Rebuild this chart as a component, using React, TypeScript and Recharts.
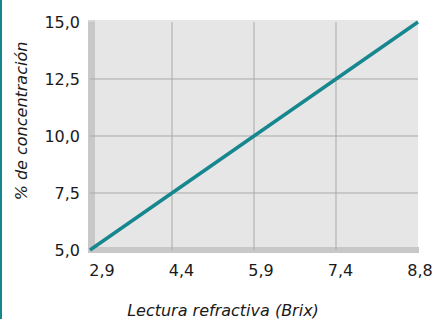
import React from 'react';
import { LineChart, Line, XAxis, YAxis, ReferenceLine, Customized, Label, usePlotArea } from 'recharts';

// Data
const brixLabels = ['2,9', '4,4', '5,9', '7,4', '8,8'];
const concentration = [5, 7.5, 10, 12.5, 15];
const yTicks = [5, 7.5, 10, 12.5, 15];

const data = brixLabels.map((b, i) => ({ brix: b, pct: concentration[i] }));

const TEAL = '#16878f';
const GRID = '#a9a9a9';
const FONT = '"DejaVu Sans", sans-serif';

function Backdrop() {
  const p = usePlotArea();
  if (!p) return null;
  const { x, y, width, height } = p;
  return (
    <g>
      <rect x={x + 5} y={y - 2} width={width - 5} height={height - 1} fill="#e6e6e6" />
    </g>
  );
}

function Walls() {
  const p = usePlotArea();
  if (!p) return null;
  const { x, y, width, height } = p;
  return (
    <g>
      <rect x={x - 2} y={y - 2} width={7} height={height + 5} fill="#c8c8c8" />
      <rect x={x - 2} y={y - 2} width={7} height={2} fill="#d6d6d6" />
      <rect x={x - 2} y={y + height - 3} width={width + 3} height={6} fill="#c8c8c8" />
    </g>
  );
}

function XTick(props: any) {
  const { x, y, payload, index } = props;
  const shift = 12 - (index ?? 0) * 2.5;
  return (
    <text
      x={x + shift}
      y={y}
      dy="0.71em"
      textAnchor="middle"
      fill="#1a1a1a"
      fontSize={16}
      fontFamily={FONT}
    >
      {payload.value}
    </text>
  );
}

const fmt = (v: number) => v.toFixed(1).replace('.', ',');

export default function App() {
  return (
    <div style={{ position: 'absolute', left: 0, top: 0, width: 433, height: 319, background: '#fff' }}>
      <LineChart
        width={433}
        height={319}
        data={data}
        margin={{ top: 22, right: 15, left: 0, bottom: 0 }}
        style={{ fontFamily: FONT }}
      >
        <Customized component={<Backdrop />} />
        {brixLabels.slice(1, -1).map((c) => (
          <ReferenceLine key={'v' + c} x={c} stroke={GRID} strokeWidth={1} />
        ))}
        <Customized component={<Walls />} />
        {yTicks.slice(1, -1).map((v) => (
          <ReferenceLine key={'h' + v} y={v} stroke={GRID} strokeWidth={1} />
        ))}
        <XAxis
          dataKey="brix"
          type="category"
          height={69}
          axisLine={false}
          tickLine={false}
          tickSize={0}
          tickMargin={15}
          interval={0}
          tick={<XTick />}
        >
          <Label
            content={({ viewBox }: any) => (
              <text
                x={viewBox.x + viewBox.width / 2 - 31}
                y={viewBox.y + 66}
                textAnchor="middle"
                fontStyle="italic"
                fontSize={16}
                fill="#1a1a1a"
                fontFamily={FONT}
              >
                Lectura refractiva (Brix)
              </text>
            )}
          />
        </XAxis>
        <YAxis
          type="number"
          domain={[5, 15]}
          ticks={yTicks}
          width={90}
          axisLine={false}
          tickLine={false}
          tickSize={0}
          tickMargin={10}
          tickFormatter={fmt}
          tick={{ fill: '#1a1a1a', fontSize: 16, fontFamily: FONT }}
        >
          <Label
            content={({ viewBox }: any) => {
              const cx = viewBox.x + 21;
              const cy = viewBox.y + viewBox.height / 2 - 15;
              return (
                <text
                  x={cx}
                  y={cy}
                  transform={`rotate(-90 ${cx} ${cy})`}
                  textAnchor="middle"
                  dominantBaseline="central"
                  fontStyle="italic"
                  fontSize={16}
                  fill="#1a1a1a"
                  fontFamily={FONT}
                >
                  % de concentración
                </text>
              );
            }}
          />
        </YAxis>
        <Line
          type="linear"
          dataKey="pct"
          stroke={TEAL}
          strokeWidth={3.5}
          dot={false}
          activeDot={false}
          isAnimationActive={false}
        />
      </LineChart>
      <div style={{ position: 'absolute', left: 0, top: 0, width: 2, height: 319, background: TEAL }} />
    </div>
  );
}
